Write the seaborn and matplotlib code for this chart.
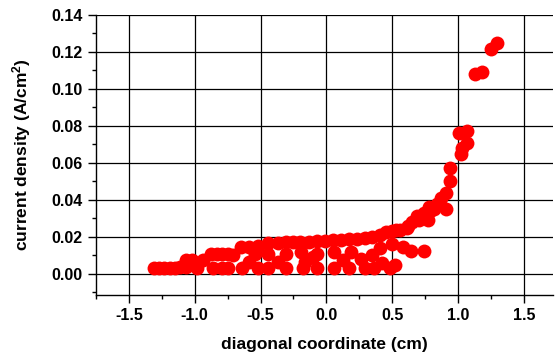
import seaborn as sns
import matplotlib.pyplot as plt
import pandas as pd

# puntos: banda superior, banda media y banda inferior
x_top = [-0.88, -0.83, -0.79, -0.75, -0.65, -0.59, -0.52, -0.44, -0.37, -0.31,
         -0.25, -0.20, -0.13, -0.07, -0.01, 0.05, 0.11, 0.17, 0.23, 0.29,
         0.35, 0.41, 0.45, 0.50, 0.53, 0.56, 0.61, 0.62, 0.65, 0.70,
         0.77, 0.69, 0.74, 0.79, 0.82, 0.78, 0.84, 0.87, 0.91, 0.94,
         0.94, 1.02, 1.03, 1.07, 1.01, 1.07, 1.13, 1.18, 1.25, 1.30, 0.91]
y_top = [0.011, 0.011, 0.011, 0.011, 0.0148, 0.0148, 0.015, 0.0166, 0.0166, 0.017,
         0.0172, 0.0175, 0.0175, 0.018, 0.018, 0.0185, 0.0185, 0.019, 0.019, 0.0195,
         0.020, 0.021, 0.0225, 0.023, 0.024, 0.024, 0.025, 0.026, 0.028, 0.029,
         0.029, 0.0315, 0.033, 0.034, 0.035, 0.036, 0.038, 0.041, 0.044, 0.050,
         0.057, 0.065, 0.068, 0.0705, 0.076, 0.0773, 0.108, 0.109, 0.1215, 0.125, 0.035]

x_mid = [-1.07, -1.02, -0.94, -0.71, -0.54, -0.44, -0.31, -0.19, -0.07, 0.06,
         0.19, 0.35, 0.41, 0.50, 0.58, 0.64, 0.74, -0.59, -0.37, -0.16,
         -0.10, 0.13, 0.26, 0.42]
y_mid = [0.0075, 0.0075, 0.0075, 0.0103, 0.011, 0.011, 0.011, 0.012, 0.011, 0.012,
         0.012, 0.010, 0.014, 0.016, 0.0144, 0.0126, 0.0126, 0.0066, 0.0066, 0.0066,
         0.009, 0.0076, 0.008, 0.0058]

x_low = [-1.31, -1.27, -1.23, -1.19, -1.15, -1.11, -1.07, -0.98, -0.86, -0.79,
         -0.75, -0.64, -0.52, -0.44, -0.31, -0.18, -0.07, 0.06, 0.17, 0.29,
         0.36, 0.48, 0.52]
y_low = [0.003, 0.003, 0.003, 0.003, 0.003, 0.0035, 0.004, 0.003, 0.003, 0.003,
         0.003, 0.003, 0.003, 0.003, 0.003, 0.003, 0.003, 0.003, 0.003, 0.003,
         0.003, 0.003, 0.0049]

df = pd.DataFrame({'x': x_top + x_mid + x_low, 'y': y_top + y_mid + y_low})

sns.set_style('white')
plt.rcParams['font.family'] = ['Liberation Sans', 'DejaVu Sans']
plt.rcParams['font.weight'] = 'bold'
plt.rcParams['text.color'] = 'black'
plt.rcParams['axes.labelcolor'] = 'black'
plt.rcParams['xtick.color'] = 'black'
plt.rcParams['ytick.color'] = 'black'
plt.rcParams['mathtext.fontset'] = 'custom'
plt.rcParams['mathtext.rm'] = 'Liberation Sans:bold'
plt.rcParams['mathtext.it'] = 'Liberation Sans:bold'
plt.rcParams['mathtext.bf'] = 'Liberation Sans:bold'

fig = plt.figure(figsize=(5.55, 3.55), dpi=100)
ax = fig.add_axes([0.173, 0.169, 0.823, 0.789])

sns.scatterplot(x='x', y='y', data=df, color='#ff0000', s=100, linewidth=0, ax=ax, zorder=3)

ax.set_xlim(-1.75, 1.72)
ax.set_ylim(-0.0114, 0.14)
ax.set_xticks([-1.5, -1.0, -0.5, 0.0, 0.5, 1.0, 1.5])
ax.set_yticks([0.00, 0.02, 0.04, 0.06, 0.08, 0.10, 0.12, 0.14])
ax.set_xticks([-1.75, -1.25, -0.75, -0.25, 0.25, 0.75, 1.25], minor=True)
ax.set_yticks([-0.01, 0.01, 0.03, 0.05, 0.07, 0.09, 0.11, 0.13], minor=True)
ax.set_yticklabels(['%.2f' % v for v in ax.get_yticks()])
ax.set_xticklabels(['%.1f' % v for v in ax.get_xticks()])

ax.grid(True, which='major', color='black', linewidth=0.9)
for side in ['top', 'right']:
    ax.spines[side].set_visible(False)
for side in ['left', 'bottom']:
    ax.spines[side].set_color('black')
    ax.spines[side].set_linewidth(1.0)

ax.tick_params(which='major', direction='out', length=6, width=1, color='black',
               labelcolor='black', labelsize=11.5, left=True, bottom=True)
ax.tick_params(which='minor', direction='out', length=3, width=1, color='black',
               left=True, bottom=True)
for lbl in ax.get_xticklabels() + ax.get_yticklabels():
    lbl.set_fontweight('bold')

ax.set_xlabel('diagonal coordinate (cm)', fontsize=12.5, fontweight='bold',
              color='black', labelpad=10)
ax.set_ylabel('current density (A/cm$^2$)', fontsize=12.5, fontweight='bold',
              color='black', labelpad=13)

plt.savefig('out.png', dpi=100)
